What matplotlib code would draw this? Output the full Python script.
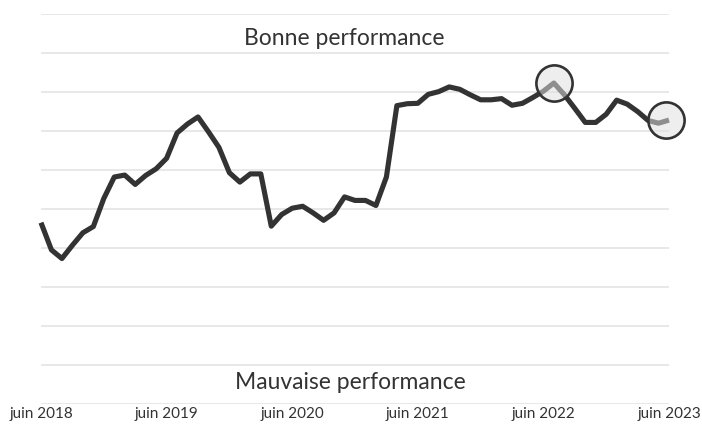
import matplotlib.pyplot as plt
import numpy as np

# monthly score, june 2018 -> june 2023
score = [4.65, 3.95, 3.73, 4.07, 4.39, 4.55, 5.27, 5.82, 5.87, 5.63,
         5.86, 6.03, 6.30, 6.95, 7.18, 7.36, 6.98, 6.58, 5.93, 5.69,
         5.90, 5.90, 4.56, 4.86, 5.02, 5.07, 4.90, 4.71, 4.90, 5.31,
         5.22, 5.22, 5.09, 5.82, 7.65, 7.70, 7.71, 7.94, 8.01, 8.13,
         8.07, 7.93, 7.80, 7.80, 7.83, 7.66, 7.71, 7.86, 8.02, 8.23,
         7.93, 7.58, 7.22, 7.22, 7.43, 7.79, 7.69, 7.50, 7.27, 7.20,
         7.28]
highlight = [49, 60]
tick_pos = [0, 12, 24, 36, 48, 60]
tick_labels = ["juin 2018", "juin 2019", "juin 2020", "juin 2021", "juin 2022", "juin 2023"]

dark = "#333333"
plt.rcParams['font.family'] = ['Lato', 'DejaVu Sans']

fig = plt.figure(figsize=(7.02, 4.29), dpi=100)
ax = fig.add_axes([41/702, 1 - 404/429, 628/702, 390/429])

months = np.arange(len(score))
ax.plot(months, score, color=dark, lw=3.7, solid_joinstyle='round', solid_capstyle='butt', zorder=3, clip_on=False)

hx = [months[i] for i in highlight]
hy = [score[i] for i in highlight]
# the last circle sits a little left of the final point in the original
hx[-1] = hx[-1] - 0.3
ax.scatter(hx, hy, s=680, facecolors=[(0.88, 0.88, 0.88, 0.53)], edgecolors=dark,
           linewidths=1.9, zorder=4, clip_on=False)

ax.set_xlim(0, 60)
ax.set_ylim(0, 10)
ax.set_yticks(np.arange(0, 11, 1))
ax.yaxis.grid(True, color="#e6e6e6", lw=1.3)
ax.set_axisbelow(True)
ax.set_yticklabels([])
ax.tick_params(axis='y', length=0)
ax.set_xticks(tick_pos)
ax.set_xticklabels(tick_labels, fontsize=11, color=dark)
ax.tick_params(axis='x', length=0, pad=2)
for s in ax.spines.values():
    s.set_visible(False)

ax.text(29.0, 9.38, "Bonne performance", ha='center', va='center', fontsize=16.5, color=dark)
ax.text(29.6, 0.55, "Mauvaise performance", ha='center', va='center', fontsize=16.5, color=dark)

fig.savefig("out.png", dpi=100)
